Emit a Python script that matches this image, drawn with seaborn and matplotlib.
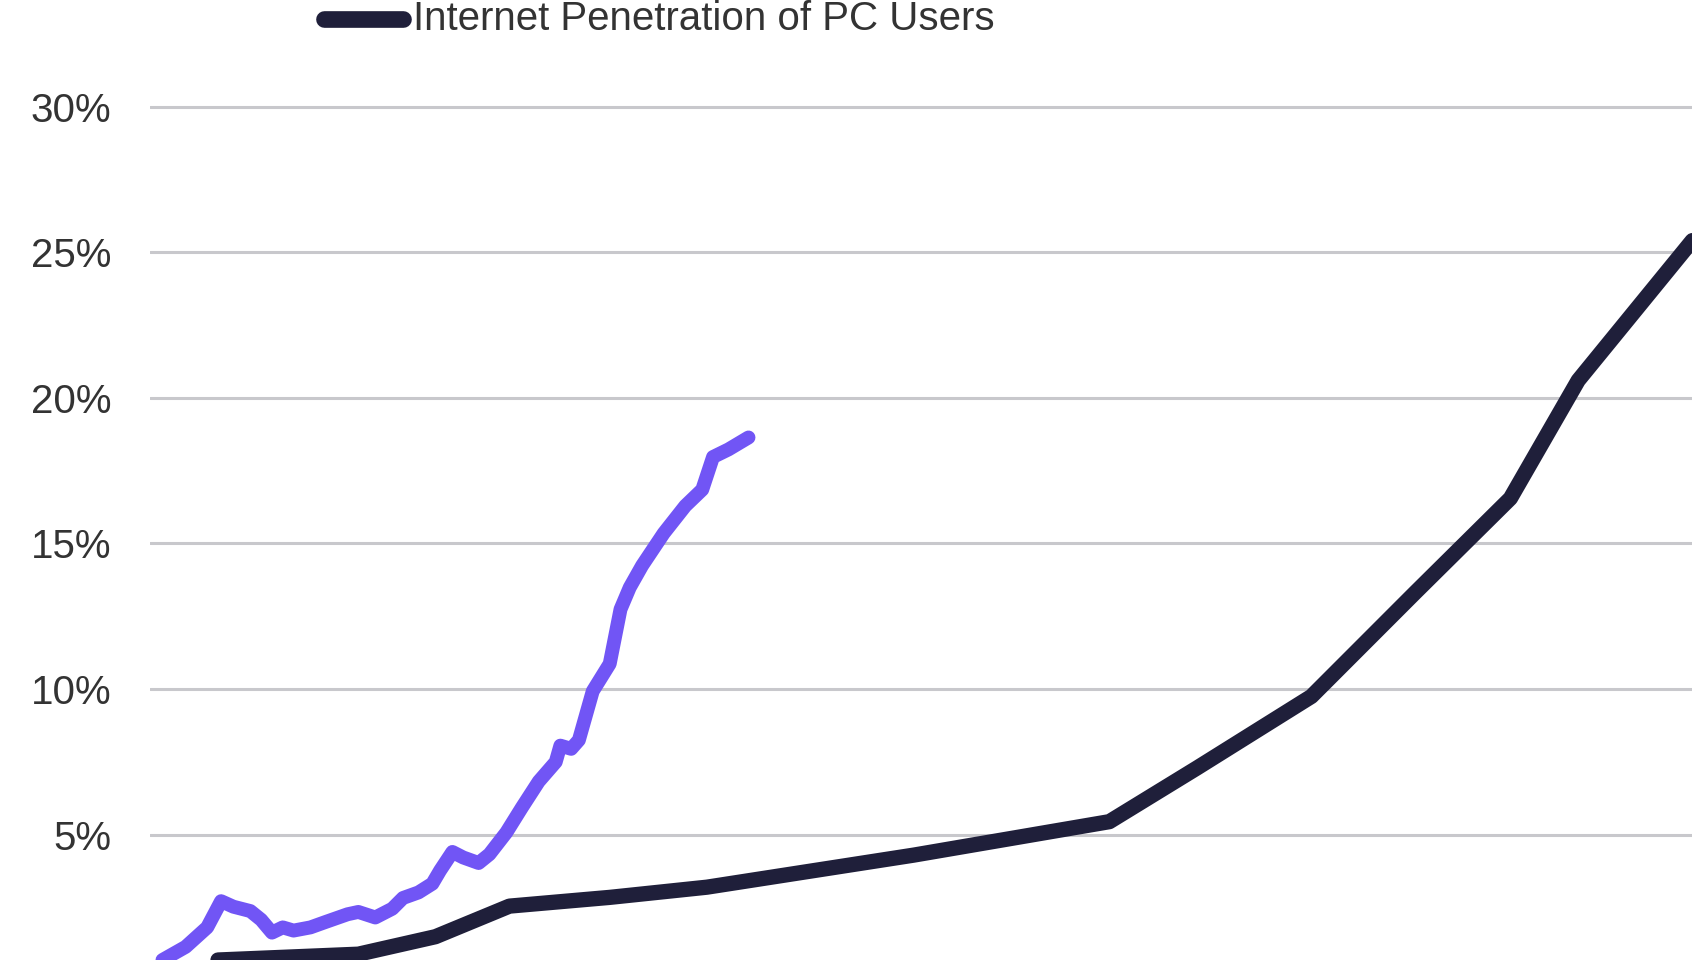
import matplotlib
matplotlib.use("Agg")
import matplotlib.pyplot as plt
import seaborn as sns
import pandas as pd

# x is position along the period axis (0-100), y is penetration in %
pc_x = [4.4, 13.5, 18.5, 23.3, 29.8, 36.1, 49.5, 62.2, 67.9, 75.3, 82.0, 88.2, 92.6, 100.0]
pc_y = [0.7, 0.9, 1.5, 2.55, 2.85, 3.2, 4.3, 5.45, 7.3, 9.75, 13.3, 16.55, 20.6, 25.4]

new_x = [0.8, 2.3, 3.7, 4.6, 5.4, 6.5, 7.2, 7.9, 8.6, 9.3, 10.4, 11.4, 12.8, 13.5, 14.6,
         15.7, 16.4, 17.4, 18.3, 18.8, 19.6, 20.3, 21.3, 22.0, 23.1, 24.1, 25.2, 26.3,
         26.6, 27.3, 27.8, 28.7, 29.8, 30.5, 31.1, 31.9, 33.3, 34.7, 35.8, 36.5, 37.5, 38.8]
new_y = [0.70, 1.15, 1.82, 2.72, 2.53, 2.38, 2.08, 1.64, 1.82, 1.71, 1.82, 2.01, 2.27, 2.35,
         2.16, 2.46, 2.83, 3.02, 3.32, 3.77, 4.41, 4.22, 4.03, 4.33, 5.08, 5.93, 6.83, 7.50,
         8.06, 7.95, 8.25, 9.93, 10.87, 12.74, 13.49, 14.24, 15.35, 16.29, 16.85, 17.97,
         18.23, 18.64]

y_ticks = [5, 10, 15, 20, 25, 30]
legend_label = "Internet Penetration of PC Users"

sns.set_style("white")
plt.rcParams['font.family'] = ['Liberation Sans', 'DejaVu Sans']

fig = plt.figure(figsize=(17.06, 9.6), dpi=100)
ax = fig.add_axes([0.088, 0.0, 0.904, 1.0])

dark = "#1f1f3a"
purple = "#7155f5"

ax.set_yticks(y_ticks)
ax.set_yticklabels([f"{t}%" for t in y_ticks], fontsize=29, color="#333333")
ax.yaxis.grid(True, color="#c8c8cc", linewidth=2.2)
ax.set_axisbelow(True)

sns.lineplot(data=pd.DataFrame({"x": pc_x, "y": pc_y}), x="x", y="y", ax=ax,
             color=dark, linewidth=11, solid_capstyle="round", solid_joinstyle="round")
sns.lineplot(data=pd.DataFrame({"x": new_x, "y": new_y}), x="x", y="y", ax=ax,
             color=purple, linewidth=10, solid_capstyle="round", solid_joinstyle="round")

ax.set_xlim(0, 100)
ax.set_ylim(0.7, 33.66)
ax.set_xticks([])
ax.set_xlabel("")
ax.set_ylabel("")
ax.tick_params(axis="y", length=0, pad=28)
for s in ax.spines.values():
    s.set_visible(False)

# legend entry at the top, partly cropped like the reference
fig.add_artist(plt.Line2D([0.19, 0.236], [0.98, 0.98], color=dark, linewidth=12,
                          solid_capstyle="round", transform=fig.transFigure))
fig.text(0.242, 0.98, legend_label, fontsize=29, color="#333333", va="center", ha="left")

fig.savefig("out.png", dpi=100)
